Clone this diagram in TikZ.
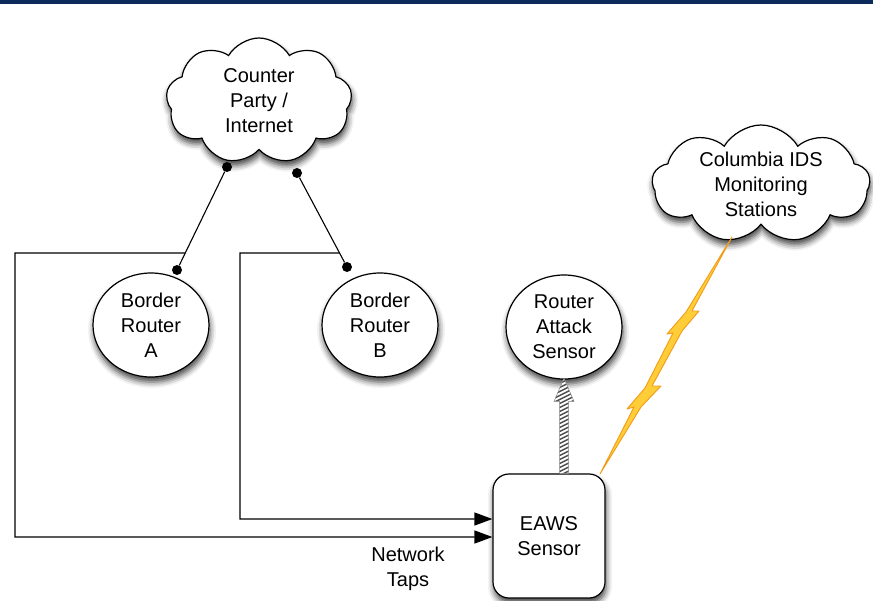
\documentclass[tikz,border=0pt]{standalone}
\usepackage{fontspec}
\setmainfont{Liberation Sans}
\usetikzlibrary{shapes.symbols,shapes.geometric,shadows.blur,arrows.meta,calc}
\definecolor{navy}{RGB}{12,42,92}
\definecolor{boltfill}{RGB}{255,205,55}
\definecolor{boltedge}{RGB}{242,155,25}
\definecolor{hatch}{RGB}{80,80,80}
\begin{document}
\begin{tikzpicture}[x=1pt,y=-1pt,
  every node/.style={font=\fontsize{20}{25}\selectfont, align=center, text=black},
  softshadow/.style={blur shadow={shadow xshift=1pt, shadow yshift=-5pt, shadow blur radius=6pt, shadow opacity=75}},
  puff/.style={cloud, cloud puffs=9, cloud puff arc=120, cloud ignores aspect, draw, line width=1.2pt, fill=white, inner sep=0pt, softshadow},
  router/.style={ellipse, draw, line width=1.2pt, fill=white, minimum width=116pt, minimum height=104pt, inner sep=0pt, softshadow},
  sensorbox/.style={rectangle, rounded corners=16pt, draw, line width=1.2pt, fill=white, minimum width=112pt, minimum height=124pt, softshadow},
  link/.style={line width=1.1pt},
  tap/.style={line width=1.2pt, -{Triangle[length=18pt,width=13pt]}},
  joint/.style={circle, fill=black, inner sep=0pt, minimum size=10pt},
]
\useasboundingbox (0,0) rectangle (873,600);
% title strip
\fill[navy] (0,0) rectangle (873,4);

% clouds, with their text set as a centred label
\node[puff, minimum width=186pt, minimum height=126pt,
      label={[text=black]center:{Counter\\Party /\\Internet}}] (cp) at (259,101) {};
\node[puff, minimum width=218pt, minimum height=118pt,
      label={[text=black]center:{Columbia IDS\\Monitoring\\Stations}}] (ids) at (761,184) {};

% routers and sensors
\node[router] (ra) at (151,325) {Border\\Router\\A};
\node[router] (rb) at (380,325) {Border\\Router\\B};
\node[router] (ras) at (564,327) {Router\\Attack\\Sensor};
\node[sensorbox] (eaws) at (549,536) {EAWS\\Sensor};
\node (nt) at (408,569) {Network\\Taps};

% links between the internet cloud and the border routers
\node[joint] (a1) at (227,167) {};
\node[joint] (a2) at (177,270) {};
\node[joint] (b1) at (297,173) {};
\node[joint] (b2) at (347,267) {};
\draw[link] (a1) -- (a2);
\draw[link] (b1) -- (b2);

% network taps feeding the EAWS sensor
\coordinate (tapA) at ($(a1)!0.835!(a2)$);
\coordinate (tapB) at ($(b1)!0.851!(b2)$);
\coordinate (ya) at (0,537);
\coordinate (yb) at (0,519);
\draw[tap] (tapA) -- (15,253) -- (15,537) -- (eaws.west |- ya);
\draw[tap] (tapB) -- (240,253) -- (240,519) -- (eaws.west |- yb);

% hatched arrow up to the router attack sensor
\coordinate (hb) at (ras.south |- eaws.north);
\begin{scope}[shift={(hb)}]
  \fill[white] (-4.5,0) -- (-4.5,-72) -- (-10,-72) -- (0,-95) -- (10,-72) -- (4.5,-72) -- (4.5,0) -- cycle;
  \begin{scope}
    \clip (-4.5,0) -- (-4.5,-72) -- (-10,-72) -- (0,-95) -- (10,-72) -- (4.5,-72) -- (4.5,0) -- cycle;
    \foreach \k in {0,4,...,112}
      \draw[hatch, line width=1.5pt] (-12,-\k+6) -- (12,-\k-6);
  \end{scope}
  \draw[hatch!70, line width=0.5pt] (-4.5,0) -- (-4.5,-72) -- (-10,-72) -- (0,-95) -- (10,-72) -- (4.5,-72) -- (4.5,0);
\end{scope}

% lightning bolt to the monitoring stations
\coordinate (bt) at (732,237);
\coordinate (bb) at (600,474);
\filldraw[fill=boltfill, draw=boltedge, line width=0.9pt, line join=round]
  (bt) -- (692,311) -- (699,311) -- (682,331) -- (652,386) -- (661,386) -- (641,407)
  -- (bb) -- (634,407) -- (627,409) -- (645,388) -- (673,333) -- (667,334) -- (686,312) -- cycle;
\end{tikzpicture}
\end{document}
